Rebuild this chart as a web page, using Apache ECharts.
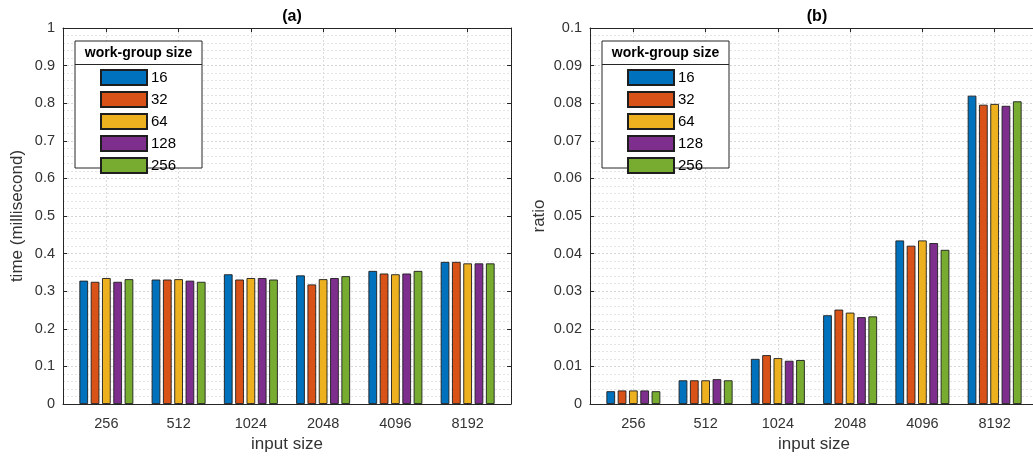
<!DOCTYPE html>
<html><head><meta charset="utf-8">
<script src="https://cdn.jsdelivr.net/npm/echarts@6/dist/echarts.min.js"></script>
<style>html,body{margin:0;padding:0;background:#fff}#c{width:1033px;height:459px}</style>
</head><body><div id="c"></div>
<script>
const inputSizes = ['256','512','1024','2048','4096','8192'];
const groupSizes = ['16','32','64','128','256'];
const colors = ['#0072BD','#D95319','#EDB120','#7E2F8E','#77AC30'];
// (a) time in milliseconds
const timeWG16  = [0.328,0.331,0.345,0.342,0.354,0.378];
const timeWG32  = [0.325,0.331,0.331,0.318,0.347,0.378];
const timeWG64  = [0.335,0.332,0.335,0.332,0.345,0.374];
const timeWG128 = [0.325,0.328,0.335,0.335,0.347,0.374];
const timeWG256 = [0.332,0.325,0.331,0.340,0.354,0.374];
// (b) ratio
const ratioWG16  = [0.0034,0.0063,0.0120,0.0236,0.0435,0.0820];
const ratioWG32  = [0.0036,0.0063,0.0130,0.0251,0.0421,0.0796];
const ratioWG64  = [0.0036,0.0063,0.0122,0.0243,0.0435,0.0798];
const ratioWG128 = [0.0036,0.0066,0.0115,0.0231,0.0428,0.0793];
const ratioWG256 = [0.0034,0.0063,0.0117,0.0233,0.0410,0.0805];
const timeData = [timeWG16,timeWG32,timeWG64,timeWG128,timeWG256];
const ratioData = [ratioWG16,ratioWG32,ratioWG64,ratioWG128,ratioWG256];
const yTicksA = {min:0,max:1,interval:0.1};
const yTicksB = {min:0,max:0.1,interval:0.01};
// x positions: group index 1..6 on a numeric axis with limits [0.4, 6.6]
const xPos = inputSizes.map((_, i) => i + 1);
const xLim = {min:0.4, max:6.6, interval:0.2};

const FONT = 'Liberation Sans, Arial, Helvetica, sans-serif';
const AX = '#262626';
const LBL = '#333333';
const grids = [
  {left:63, top:28, width:448, height:376, outerBoundsMode:'none', containLabel:false},
  {left:590, top:28, width:448, height:376, outerBoundsMode:'none', containLabel:false}
];
const xAxes = [], yAxes = [], series = [];
const yNames = ['time (millisecond)','ratio'];
const yT = [yTicksA, yTicksB];
const datas = [timeData, ratioData];
grids.forEach((g, gi) => {
  xAxes.push({
    type:'value', gridIndex:gi, position:'bottom',
    min:xLim.min, max:xLim.max, interval:xLim.interval,
    axisLine:{show:true,onZero:false,lineStyle:{color:AX,width:1}},
    axisTick:{show:true,inside:true,length:4,customValues:xPos,lineStyle:{color:AX}},
    axisLabel:{show:true,customValues:xPos,formatter:(v)=>inputSizes[Math.round(v)-1],
      color:LBL,fontSize:14.5,fontFamily:FONT,margin:12},
    splitLine:{show:true,lineStyle:{color:'#dcdcdc',type:[2,2],width:1}},
    name:'input size', nameLocation:'middle', nameGap:32,
    nameTextStyle:{color:LBL,fontSize:17,fontFamily:FONT}
  });
  xAxes.push({
    type:'value', gridIndex:gi, position:'top',
    min:xLim.min, max:xLim.max, interval:xLim.interval,
    axisLine:{show:true,onZero:false,lineStyle:{color:AX,width:1}},
    axisTick:{show:true,inside:true,length:4,customValues:xPos,lineStyle:{color:AX}},
    axisLabel:{show:false}, splitLine:{show:false}
  });
  yAxes.push({
    type:'value', gridIndex:gi, min:yT[gi].min, max:yT[gi].max, interval:yT[gi].interval,
    position:'left',
    axisLine:{show:true,onZero:false,lineStyle:{color:AX,width:1}},
    axisTick:{show:true,inside:true,length:4,lineStyle:{color:AX}},
    axisLabel:{color:LBL,fontSize:14.5,fontFamily:FONT,margin:8},
    splitLine:{show:true,lineStyle:{color:'#d4d4d4',type:[2,2],width:1}},
    minorTick:{show:false,splitNumber:5},
    minorSplitLine:{show:true,lineStyle:{color:'#e4e4e4',type:[2,2],width:1}},
    name:yNames[gi], nameLocation:'middle', nameGap: gi===0?37:42,
    nameTextStyle:{color:LBL,fontSize:17,fontFamily:FONT}
  });
  yAxes.push({
    type:'value', gridIndex:gi, min:yT[gi].min, max:yT[gi].max, interval:yT[gi].interval,
    position:'right',
    axisLine:{show:true,onZero:false,lineStyle:{color:AX,width:1}},
    axisTick:{show:true,inside:true,length:4,lineStyle:{color:AX}},
    axisLabel:{show:false}, splitLine:{show:false}
  });
  groupSizes.forEach((name, si) => {
    series.push({
      type:'bar', name:name, xAxisIndex:gi*2, yAxisIndex:gi*2,
      data:datas[gi][si].map((v, i) => [xPos[i], v]),
      barWidth:8.7, barGap:'30%',
      itemStyle:{color:colors[si],borderColor:'#1e1e1e',borderWidth:0.9},
      emphasis:{disabled:true}, z:3
    });
  });
});

const legendBoxes = [75, 602];
const graphic = [];
legendBoxes.forEach((x, i) => {
  graphic.push({type:'rect', z:50, shape:{x:x, y:41, width:127, height:127},
    style:{fill:'#fff', stroke:AX, lineWidth:1}});
  graphic.push({type:'line', z:51, shape:{x1:x, y1:64.5, x2:x+127, y2:64.5},
    style:{stroke:AX, lineWidth:1}});
  graphic.push({type:'text', z:51, x:x+63.5, y:53, style:{text:'work-group size',
    fill:'#000', font:'bold 14px '+FONT, align:'center', verticalAlign:'middle'}});
});
const legends = legendBoxes.map((x) => ({
  data:groupSizes, orient:'vertical', left:x+25, top:69, padding:0,
  itemWidth:46, itemHeight:15, itemGap:5, z:60, selectedMode:false,
  icon:'rect',
  textStyle:{color:'#000', fontSize:15, fontFamily:FONT, lineHeight:15, padding:[0,0,0,-1]}
}));

const chart = echarts.init(document.getElementById('c'), null, {renderer:'canvas'});
chart.setOption({
  animation:false,
  title:[
    {text:'(a)', left:287, top:4, textAlign:'center', textStyle:{fontSize:16,fontWeight:'bold',color:'#000',fontFamily:FONT}},
    {text:'(b)', left:812, top:4, textAlign:'center', textStyle:{fontSize:16,fontWeight:'bold',color:'#000',fontFamily:FONT}}
  ],
  grid:grids, xAxis:xAxes, yAxis:yAxes, series:series,
  legend:legends, graphic:graphic
});
</script></body></html>
